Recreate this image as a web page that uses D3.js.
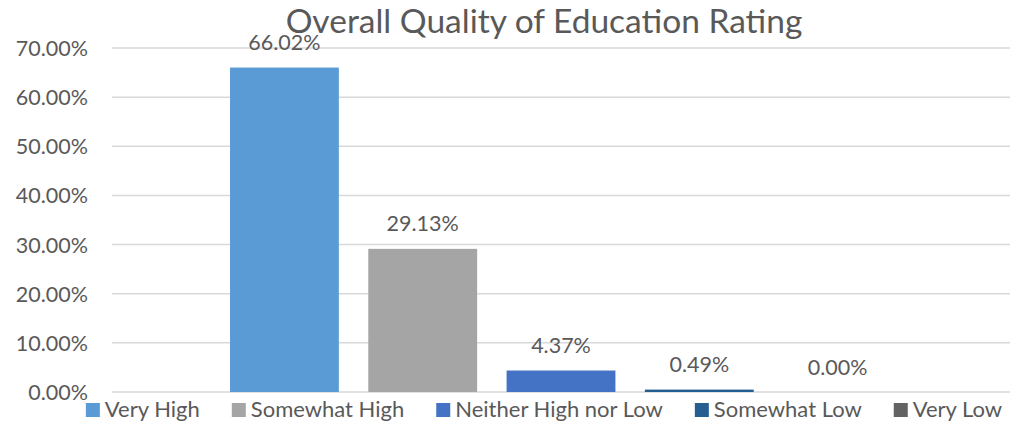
<!DOCTYPE html>
<html><head><meta charset="utf-8">
<script src="https://cdn.jsdelivr.net/npm/d3@7"></script>
<style>body{margin:0;background:#fff}svg{display:block}text{font-family:Lato,"Open Sans",sans-serif;fill:#595959}</style>
</head><body><svg id="c" width="1011" height="425"></svg>
<script>
const title = "Overall Quality of Education Rating";
const categories = [""];
const series = ["Very High","Somewhat High","Neither High nor Low","Somewhat Low","Very Low"];
const values = [66.02, 29.13, 4.37, 0.49, 0.00];
const colors = ["#5B9BD5","#A5A5A5","#4472C4","#255E91","#636363"];
const yTicks = [0,10,20,30,40,50,60,70];

const svg = d3.select("#c");
const W = 1011, H = 425;
const m = {left:112, right:1, top:48, bottom:33};
const y = d3.scaleLinear().domain([0,70]).range([H-m.bottom, m.top]);
const x0 = d3.scaleBand().domain(categories).range([m.left, W-m.right]).padding(0.1513);
const x1 = d3.scaleBand().domain(series).range([0, x0.bandwidth()]).paddingInner(0.213).paddingOuter(0);

// gridlines
svg.append("g").selectAll("line").data(yTicks).join("line")
  .attr("x1", m.left).attr("x2", W-m.right)
  .attr("y1", d=>y(d)).attr("y2", d=>y(d))
  .attr("stroke","#D9D9D9").attr("stroke-width",1.5);

// y axis labels
const yAxis = d3.axisLeft(y).tickValues(yTicks).tickSize(0).tickPadding(24)
  .tickFormat(d=>d3.format(".2f")(d)+"%");
const ga = svg.append("g").attr("transform",`translate(${m.left},0)`).call(yAxis);
ga.select(".domain").remove();
ga.selectAll("text").style("font-size","21.5px").attr("fill","#595959").attr("dy","0.35em").style("font-family","Lato");

// bars
const g = svg.append("g").attr("transform",`translate(${x0("")},0)`);
g.selectAll("rect").data(series).join("rect")
  .attr("x", d=>x1(d)).attr("width", x1.bandwidth())
  .attr("y", (d,i)=>y(values[i])).attr("height",(d,i)=>y(0)-y(values[i]))
  .attr("fill",(d,i)=>colors[i]);
g.selectAll("text.lbl").data(series).join("text").attr("class","lbl")
  .attr("x", d=>x1(d)+x1.bandwidth()/2)
  .attr("y", (d,i)=>y(values[i])-17.5)
  .attr("text-anchor","middle").style("font-size","21.5px")
  .text((d,i)=>d3.format(".2f")(values[i])+"%");

// title
svg.append("text").attr("x",544).attr("y",33).attr("text-anchor","middle")
  .style("font-size","33.5px").text(title);

// legend
const lg = svg.append("g");
const items = lg.selectAll("g").data(series).join("g");
items.append("rect").attr("width",14).attr("height",14).attr("y",403).attr("fill",(d,i)=>colors[i]);
items.append("text").attr("x",19).attr("y",417).style("font-size","22px").text(d=>d);
let xpos = 0; const pos = [];
items.each(function(){ pos.push(xpos); xpos += 19 + d3.select(this).select("text").node().getComputedTextLength() + 32; });
const total = xpos - 32;
const start = 544 - total/2;
items.attr("transform",(d,i)=>`translate(${start+pos[i]},0)`);
</script></body></html>
